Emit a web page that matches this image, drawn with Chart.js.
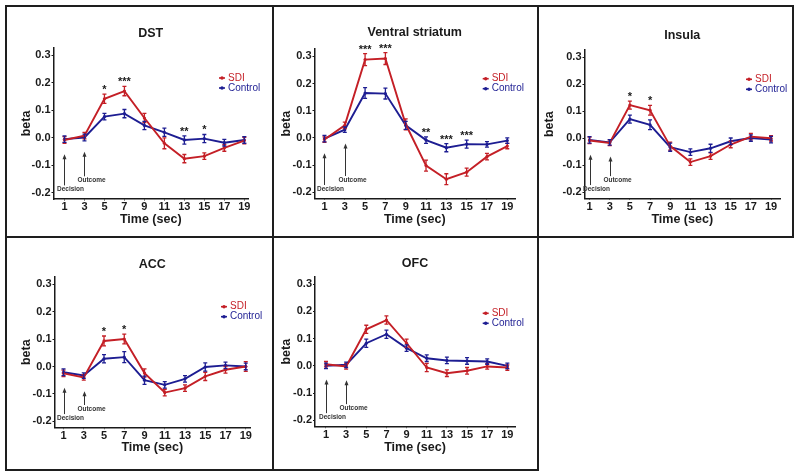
<!DOCTYPE html>
<html>
<head>
<meta charset="utf-8">
<script src="https://cdn.jsdelivr.net/npm/chart.js@4.4.1/dist/chart.umd.min.js"></script>
<style>
  body { margin: 0; background: #fff; }
  #fig { position: relative; width: 800px; height: 476px; overflow: hidden; }
  #fig canvas { position: absolute; }
  .rule { position: absolute; background: #1e1e1e; }
</style>
</head>
<body>
<div id="fig"></div>
<script>
// time points (sec) and axis ticks
const times = [1, 3, 5, 7, 9, 11, 13, 15, 17, 19];
const yTicks = [-0.2, -0.1, 0.0, 0.1, 0.2, 0.3];
const seriesNames = ['SDI', 'Control'];
const cueLabels = ['Decision', 'Outcome'];
const cueTimes = [1, 3];

// DST
const dstSdi = [-0.008, 0.008, 0.142, 0.170, 0.072, -0.020, -0.076, -0.067, -0.037, -0.010];
const dstSdiErr = [0.012, 0.012, 0.017, 0.017, 0.017, 0.020, 0.015, 0.012, 0.012, 0.012];
const dstCtrl = [-0.005, 0.001, 0.077, 0.088, 0.045, 0.020, -0.008, -0.003, -0.018, -0.008];
const dstCtrlErr = [0.012, 0.012, 0.012, 0.015, 0.015, 0.015, 0.015, 0.015, 0.012, 0.012];
const dstStars = [[5, '*'], [7, '***'], [13, '**'], [15, '*']];

// Ventral striatum
const vsSdi = [-0.006, 0.046, 0.288, 0.292, 0.050, -0.102, -0.152, -0.126, -0.069, -0.030];
const vsSdiErr = [0.010, 0.012, 0.022, 0.022, 0.020, 0.020, 0.020, 0.015, 0.012, 0.010];
const vsCtrl = [-0.003, 0.030, 0.165, 0.163, 0.046, -0.008, -0.036, -0.023, -0.024, -0.010];
const vsCtrlErr = [0.012, 0.010, 0.020, 0.020, 0.015, 0.012, 0.015, 0.015, 0.010, 0.010];
const vsStars = [[5, '***'], [7, '***'], [11, '**'], [13, '***'], [15, '***']];

// Insula
const insSdi = [-0.008, -0.017, 0.123, 0.104, -0.029, -0.088, -0.066, -0.023, 0.006, 0.000];
const insSdiErr = [0.012, 0.010, 0.015, 0.018, 0.015, 0.012, 0.012, 0.012, 0.012, 0.010];
const insCtrl = [-0.006, -0.015, 0.071, 0.050, -0.033, -0.051, -0.037, -0.011, 0.001, -0.005];
const insCtrlErr = [0.012, 0.010, 0.015, 0.018, 0.015, 0.012, 0.015, 0.012, 0.012, 0.012];
const insStars = [[5, '*'], [7, '*']];

// ACC
const accSdi = [-0.025, -0.040, 0.093, 0.100, -0.024, -0.095, -0.079, -0.036, -0.012, 0.000];
const accSdiErr = [0.012, 0.010, 0.018, 0.018, 0.015, 0.012, 0.012, 0.015, 0.012, 0.018];
const accCtrl = [-0.021, -0.033, 0.028, 0.034, -0.050, -0.067, -0.045, -0.002, 0.004, 0.000];
const accCtrlErr = [0.012, 0.010, 0.015, 0.020, 0.015, 0.012, 0.012, 0.015, 0.012, 0.012];
const accStars = [[5, '*'], [7, '*']];

// OFC
const ofcSdi = [0.006, -0.002, 0.134, 0.168, 0.083, -0.006, -0.027, -0.018, -0.002, -0.006];
const ofcSdiErr = [0.010, 0.010, 0.015, 0.015, 0.015, 0.015, 0.012, 0.012, 0.010, 0.010];
const ofcCtrl = [0.000, 0.004, 0.083, 0.116, 0.065, 0.028, 0.020, 0.018, 0.016, 0.000];
const ofcCtrlErr = [0.010, 0.010, 0.015, 0.015, 0.012, 0.012, 0.012, 0.012, 0.010, 0.010];
const ofcStars = [];

const panels = [
  { title: 'DST', sdi: dstSdi, sdiErr: dstSdiErr, ctrl: dstCtrl, ctrlErr: dstCtrlErr, stars: dstStars },
  { title: 'Ventral striatum', sdi: vsSdi, sdiErr: vsSdiErr, ctrl: vsCtrl, ctrlErr: vsCtrlErr, stars: vsStars },
  { title: 'Insula', sdi: insSdi, sdiErr: insSdiErr, ctrl: insCtrl, ctrlErr: insCtrlErr, stars: insStars },
  { title: 'ACC', sdi: accSdi, sdiErr: accSdiErr, ctrl: accCtrl, ctrlErr: accCtrlErr, stars: accStars },
  { title: 'OFC', sdi: ofcSdi, sdiErr: ofcSdiErr, ctrl: ofcCtrl, ctrlErr: ofcCtrlErr, stars: ofcStars }
];

// page layout: canvas rect, chart area, title/axis-title/legend positions, x range
const boxes = [
  { cx: 7, cy: 7, w: 265, h: 229, L: 53.5, T: 48, R: 248, B: 199, ty: 34, bx: 26.7, xty: 219.5, lx: 228, ly: 78, xMin: -0.1, xMax: 19.37 },
  { cx: 274, cy: 7, w: 263, h: 229, L: 314.5, T: 49, R: 515, B: 198.5, ty: 33, bx: 286.7, xty: 219.5, lx: 491.7, ly: 78.7, xMin: 0.02, xMax: 19.76 },
  { cx: 540, cy: 7, w: 252, h: 229, L: 584.5, T: 50, R: 780, B: 198.5, ty: 35.5, bx: 550, xty: 219.8, lx: 755, ly: 79.3, xMin: 0.5, xMax: 19.89 },
  { cx: 7, cy: 239, w: 265, h: 230, L: 54.5, T: 276.7, R: 250, B: 427.7, ty: 264.7, bx: 26.7, xty: 448, lx: 230, ly: 306.7, xMin: 0.11, xMax: 19.42 },
  { cx: 274, cy: 239, w: 263, h: 230, L: 315, T: 276.7, R: 515, B: 426.7, ty: 263.7, bx: 286.7, xty: 447.6, lx: 491.7, ly: 313.3, xMin: -0.09, xMax: 19.76 }
];

const rules = [
  [5, 5, 789, 2], [5, 236, 789, 2], [5, 469, 534, 2],
  [5, 5, 2, 466], [272, 5, 2, 466], [537, 5, 2, 466], [792, 5, 2, 233]
];

const RED = '#c41f26';
const BLUE = '#1d1d92';
const INK = '#1a1a1a';
const FONT = '"Liberation Sans", Arial, Helvetica, sans-serif';
Chart.defaults.font.family = FONT;
Chart.defaults.color = INK;

const fig = document.getElementById('fig');
rules.forEach(([x, y, w, h]) => {
  const d = document.createElement('div');
  d.className = 'rule';
  d.style.cssText = `left:${x}px;top:${y}px;width:${w}px;height:${h}px`;
  fig.appendChild(d);
});

// error bars, significance stars, cue arrows and the legend
const notes = {
  id: 'notes',
  afterDatasetsDraw(chart, args, opts) {
    const { ctx } = chart;
    const x = chart.scales.x, y = chart.scales.y;
    const sets = chart.data.datasets;
    ctx.save();

    sets.forEach(ds => {
      ctx.strokeStyle = ds.borderColor;
      ctx.lineWidth = 1.3;
      ds.data.forEach((p, i) => {
        const px = x.getPixelForValue(p.x);
        const lo = y.getPixelForValue(p.y - ds.errors[i]);
        const hi = y.getPixelForValue(p.y + ds.errors[i]);
        ctx.beginPath();
        ctx.moveTo(px, lo); ctx.lineTo(px, hi);
        ctx.moveTo(px - 2, lo); ctx.lineTo(px + 2, lo);
        ctx.moveTo(px - 2, hi); ctx.lineTo(px + 2, hi);
        ctx.stroke();
      });
    });

    ctx.fillStyle = INK;
    ctx.font = `bold 11px ${FONT}`;
    ctx.textAlign = 'center';
    ctx.textBaseline = 'alphabetic';
    opts.stars.forEach(([t, s]) => {
      const i = times.indexOf(t);
      const top = Math.max(...sets.map(ds => ds.data[i].y + ds.errors[i]));
      ctx.fillText(s, x.getPixelForValue(t), y.getPixelForValue(top) - 1);
    });

    // cue arrows below the curves
    const labelY = [-0.188, -0.155];
    const labelDx = [6, 7];
    ctx.strokeStyle = '#333';
    ctx.fillStyle = '#333';
    ctx.lineWidth = 1;
    cueTimes.forEach((t, k) => {
      const i = times.indexOf(t);
      const low = Math.min(...sets.map(ds => ds.data[i].y - ds.errors[i]));
      const px = Math.round(x.getPixelForValue(t)) + 0.5;
      const top = y.getPixelForValue(low) + 11;
      const ly = y.getPixelForValue(labelY[k]);
      ctx.beginPath();
      ctx.moveTo(px, top + 3); ctx.lineTo(px, ly - 4);
      ctx.stroke();
      ctx.beginPath();
      ctx.moveTo(px, top); ctx.lineTo(px - 2, top + 5); ctx.lineTo(px + 2, top + 5);
      ctx.closePath();
      ctx.fill();
      ctx.font = `bold 6.5px ${FONT}`;
      ctx.textBaseline = 'middle';
      ctx.fillText(cueLabels[k], px + labelDx[k], ly);
    });

    // legend
    ctx.font = `10px ${FONT}`;
    ctx.textAlign = 'left';
    ctx.textBaseline = 'middle';
    sets.forEach((ds, k) => {
      const ly = opts.ly + k * 10;
      ctx.strokeStyle = ds.borderColor;
      ctx.fillStyle = ds.borderColor;
      ctx.lineWidth = 1.6;
      ctx.beginPath();
      ctx.moveTo(opts.lx - 9, ly); ctx.lineTo(opts.lx - 3, ly);
      ctx.stroke();
      ctx.beginPath();
      ctx.arc(opts.lx - 6, ly, 1.7, 0, Math.PI * 2);
      ctx.fill();
      ctx.fillText(ds.label, opts.lx, ly);
    });
    ctx.restore();
  }
};

function makeSet(label, values, errors, color) {
  return {
    label,
    data: times.map((t, i) => ({ x: t, y: values[i] })),
    errors,
    borderColor: color,
    backgroundColor: color,
    pointBackgroundColor: color,
    pointBorderWidth: 0,
    pointRadius: 1.6,
    borderWidth: 1.9,
    tension: 0,
    clip: false
  };
}

panels.forEach((p, n) => {
  const b = boxes[n];
  const canvas = document.createElement('canvas');
  canvas.width = b.w;
  canvas.height = b.h;
  canvas.style.left = b.cx + 'px';
  canvas.style.top = b.cy + 'px';
  fig.appendChild(canvas);

  const yW = b.L - b.cx;
  const xH = b.cy + b.h - b.B;
  const titleLH = 12.5 * 1.2;
  const axisLH = 12.5 * 1.2;

  new Chart(canvas, {
    type: 'line',
    data: {
      datasets: [
        makeSet(seriesNames[0], p.sdi, p.sdiErr, RED),
        makeSet(seriesNames[1], p.ctrl, p.ctrlErr, BLUE)
      ]
    },
    options: {
      responsive: false,
      animation: false,
      devicePixelRatio: 1,
      layout: { padding: { left: 0, top: 0, bottom: 0, right: b.cx + b.w - b.R } },
      plugins: {
        legend: { display: false },
        tooltip: { enabled: false },
        title: {
          display: true,
          text: p.title,
          fullSize: false,
          color: INK,
          font: { size: 12.5, weight: 'bold' },
          padding: { top: b.ty - b.cy - titleLH / 2, bottom: b.T - b.ty - titleLH / 2 }
        },
        notes: { stars: p.stars, lx: b.lx - b.cx, ly: b.ly - b.cy }
      },
      scales: {
        x: {
          type: 'linear',
          min: b.xMin,
          max: b.xMax,
          afterBuildTicks: s => { s.ticks = times.map(v => ({ value: v })); },
          afterFit: s => { s.height = xH; s.paddingLeft = 0; s.paddingRight = 0; },
          ticks: { autoSkip: false, maxRotation: 0, padding: 0, color: INK, font: { size: 11, weight: 'bold' } },
          grid: { drawOnChartArea: false, drawTicks: true, tickLength: 1.5, color: INK },
          border: { display: true, color: INK, width: 1.5 },
          title: {
            display: true,
            text: 'Time (sec)',
            color: INK,
            font: { size: 12.5, weight: 'bold' },
            padding: { top: 0, bottom: b.cy + b.h - b.xty - axisLH / 2 }
          }
        },
        y: {
          min: -0.223,
          max: 0.327,
          afterBuildTicks: s => { s.ticks = yTicks.map(v => ({ value: v })); },
          afterFit: s => { s.width = yW; s.paddingTop = 0; s.paddingBottom = 0; },
          ticks: { padding: 1, color: INK, font: { size: 11, weight: 'bold' }, callback: v => v.toFixed(1) },
          grid: { drawOnChartArea: false, drawTicks: true, tickLength: 2, color: INK },
          border: { display: true, color: INK, width: 1.5 },
          title: {
            display: true,
            text: 'beta',
            color: INK,
            font: { size: 12.5, weight: 'bold' },
            padding: { top: b.bx - b.cx - 12.5 * 0.6, bottom: 0 }
          }
        }
      }
    },
    plugins: [notes]
  });
});
</script>
</body>
</html>
